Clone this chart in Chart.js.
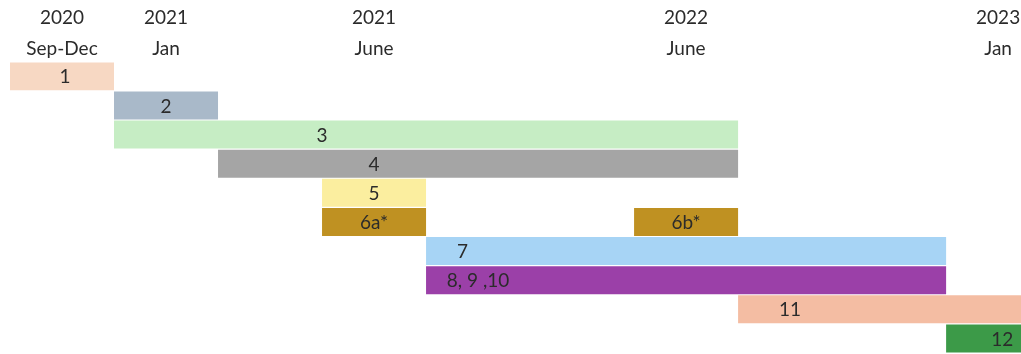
<!DOCTYPE html>
<html>
<head>
<meta charset="utf-8">
<script src="https://cdn.jsdelivr.net/npm/chart.js@4/dist/chart.umd.min.js"></script>
<style>
  html, body { margin: 0; padding: 0; background: #ffffff; }
  #wrap { width: 1021px; height: 354px; }
</style>
</head>
<body>
<div id="wrap"><canvas id="plan"></canvas></div>
<script>
// rows of the plan, top to bottom
const rows = ["1", "2", "3", "4", "5", "6", "7", "8", "11", "12"];
// start / end of each bar, in periods (0 = 2020 Sep-Dec)
const starts = [0, 1, 1, 2, 3, 3, 4, 4, 7, 9];
const ends = [1, 2, 7, 7, 4, 4, 9, 9, 10, 10];
const barText = ["1", "2", "3", "4", "5", "6a*", "7", "8, 9 ,10", "11", "12"];
const textAt = [0.53, 1.5, 3.0, 3.5, 3.5, 3.5, 4.35, 4.5, 7.5, 9.54];
const barColors = ["#f7d8c3", "#a9b9c9", "#c6edc4", "#a5a5a5", "#fbee9f",
  "#bf9122", "#a7d4f5", "#9b40a8", "#f4bda3", "#3c9a48"];

// second bar of row 6
const lateRow = "6";
const lateStart = 6;
const lateEnd = 7;
const lateText = "6b*";
const lateTextAt = 6.5;

// header ticks
const tickAt = [0.5, 1.5, 3.5, 6.5, 9.5];
const tickYears = ["2020", "2021", "2021", "2022", "2023"];
const tickMonths = ["Sep-Dec", "Jan", "June", "June", "Jan"];

const FONT = "Lato, 'Open Sans', sans-serif";

const mainData = rows.map((r, i) => [starts[i], ends[i]]);
const lateData = rows.map((r) => (r === lateRow ? [lateStart, lateEnd] : null));

const barLabels = {
  id: "barLabels",
  afterDatasetsDraw(chart) {
    const ctx = chart.ctx;
    const xs = chart.scales.x;
    ctx.save();
    ctx.font = "19px " + FONT;
    ctx.fillStyle = "#2b2b2b";
    ctx.textAlign = "center";
    ctx.textBaseline = "middle";
    chart.data.datasets.forEach((ds, d) => {
      const meta = chart.getDatasetMeta(d);
      meta.data.forEach((bar, i) => {
        if (!ds.data[i]) return;
        const text = d === 0 ? barText[i] : lateText;
        const pos = d === 0 ? textAt[i] : lateTextAt;
        ctx.fillText(text, xs.getPixelForValue(pos), bar.y + 1);
      });
    });
    ctx.restore();
  }
};

new Chart(document.getElementById("plan"), {
  type: "bar",
  data: {
    labels: rows,
    datasets: [
      {
        data: mainData,
        backgroundColor: barColors,
        borderWidth: 0,
        grouped: false,
        barPercentage: 1,
        categoryPercentage: 0.96
      },
      {
        data: lateData,
        backgroundColor: barColors[5],
        borderWidth: 0,
        grouped: false,
        barPercentage: 1,
        categoryPercentage: 0.96
      }
    ]
  },
  options: {
    indexAxis: "y",
    responsive: true,
    maintainAspectRatio: false,
    animation: false,
    layout: { padding: { left: 10, right: 0, top: 5, bottom: 1 } },
    plugins: {
      legend: { display: false },
      tooltip: { enabled: false }
    },
    scales: {
      x: {
        type: "linear",
        position: "top",
        min: 0,
        max: 9.72,
        border: { display: false },
        grid: { display: false, drawTicks: false },
        afterBuildTicks: (scale) => {
          scale.ticks = tickAt.map((v) => ({ value: v }));
        },
        ticks: {
          autoSkip: false,
          maxRotation: 0,
          padding: -2,
          color: "#2b2b2b",
          font: { family: FONT, size: 19, lineHeight: 1.6 },
          callback: (value) => {
            const i = tickAt.indexOf(value);
            return i < 0 ? "" : [tickYears[i], tickMonths[i]];
          }
        }
      },
      y: {
        display: false,
        grid: { display: false }
      }
    }
  },
  plugins: [barLabels]
});
</script>
</body>
</html>
